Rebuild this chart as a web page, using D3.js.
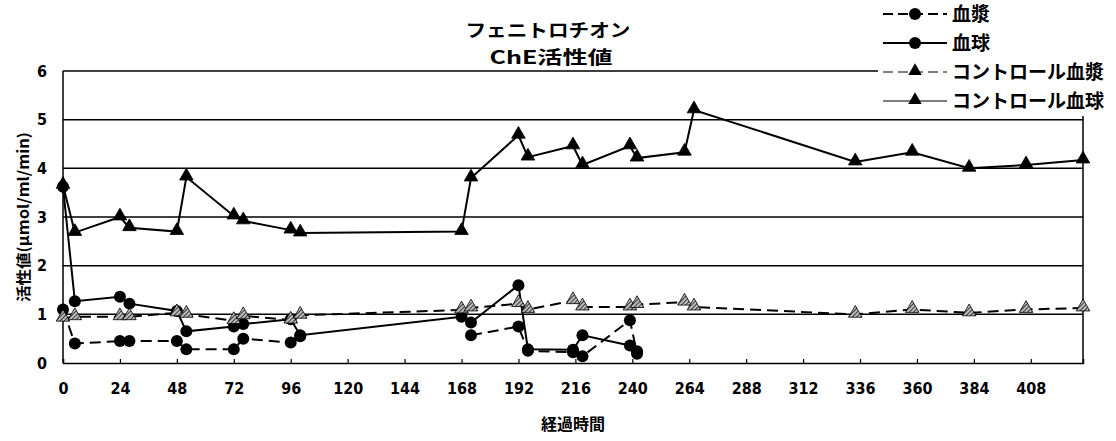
<!DOCTYPE html>
<html>
<head>
<meta charset="utf-8">
<script src="https://cdn.jsdelivr.net/npm/d3@7"></script>
<style>
  body { margin: 0; background: #fff; }
  .jp { font-family: "Noto Sans CJK JP", sans-serif; font-weight: 700; fill: #000; }
  .tick-text { font-family: "Liberation Sans Narrow", "DejaVu Sans Condensed", sans-serif; font-weight: 700; font-size: 16px; fill: #000; }
</style>
</head>
<body>
<div id="chart"></div>
<script>
// sampling times (h)
const timesTest= [0, 5, 24, 28, 48, 52, 72, 76, 96, 100, 168, 172, 192, 196, 215, 219, 239, 242];
const timesCtrl= [0, 5, 24, 28, 48, 52, 72, 76, 96, 100, 168, 172, 192, 196, 215, 219, 239, 242, 262, 266, 334, 358, 382, 406, 430];

// ChE activity (umol/ml/min)
const plasma= [1.1, 0.4, 0.45, 0.45, 0.45, 0.28, 0.28, 0.5, 0.42, 0.55, null, 0.57, 0.75, 0.25, 0.22, 0.14, 0.88, 0.19];
const blood= [3.62, 1.27, 1.36, 1.22, 1.07, 0.65, 0.75, 0.8, 0.9, 0.57, 0.95, 0.83, 1.6, 0.28, 0.27, 0.57, 0.36, 0.24];
const ctrlPlasma= [0.92, 0.95, 0.95, 0.95, 1.03, 1.0, 0.87, 0.97, 0.88, 0.98, 1.09, 1.13, 1.22, 1.1, 1.28, 1.15, 1.15, 1.2, 1.25, 1.15, 1.0, 1.1, 1.03, 1.1, 1.13];
const ctrlBlood= [3.65, 2.68, 3.0, 2.78, 2.7, 3.82, 3.02, 2.92, 2.73, 2.67, 2.7, 3.8, 4.68, 4.23, 4.46, 4.07, 4.46, 4.21, 4.33, 5.2, 4.13, 4.33, 4.0, 4.07, 4.17];

const xTicks= d3.range(0, 409, 24);
const yTicks= [0, 1, 2, 3, 4, 5, 6];

const W= 1116, H= 441;
const MAR= { top: 71, right: 33, bottom: 78, left: 63 };

const svg= d3.select('#chart').append('svg')
  .attr('width', W).attr('height', H)
  .style('display', 'block');

const defs= svg.append('defs');
const pat= defs.append('pattern')
  .attr('id', 'hatch').attr('patternUnits', 'userSpaceOnUse')
  .attr('width', 3).attr('height', 3)
  .attr('patternTransform', 'rotate(45)');
pat.append('rect').attr('width', 3).attr('height', 3).attr('fill', '#bbb');
pat.append('line').attr('x1', 0).attr('y1', 0).attr('x2', 0).attr('y2', 3)
  .attr('stroke', '#000').attr('stroke-width', 1.4);

const xSc= d3.scaleLinear().domain([0, 430]).range([MAR.left, W-MAR.right]);
const ySc= d3.scaleLinear().domain([0, 6]).range([H-MAR.bottom, MAR.top]);

// grid lines
svg.append('g').selectAll('line').data(yTicks.filter(d => d > 0)).join('line')
  .attr('x1', xSc(0)).attr('x2', xSc(430))
  .attr('y1', d => ySc(d)).attr('y2', d => ySc(d))
  .attr('stroke', '#000').attr('stroke-width', 1.5);

// frame
svg.append('line')
  .attr('x1', xSc(0)).attr('x2', xSc(0)).attr('y1', ySc(0)).attr('y2', ySc(6))
  .attr('stroke', '#000').attr('stroke-width', 1.5);
svg.append('line')
  .attr('x1', xSc(430)).attr('x2', xSc(430)).attr('y1', ySc(0)).attr('y2', ySc(6))
  .attr('stroke', '#000').attr('stroke-width', 1.5);

const xAxis= svg.append('g')
  .attr('transform', `translate(0,${ySc(0)})`)
  .call(d3.axisBottom(xSc).tickValues(xTicks).tickSize(-4).tickPadding(20).tickFormat(d3.format('d')));
xAxis.select('.domain').attr('stroke-width', 1.5);
xAxis.selectAll('.tick line').attr('stroke-width', 1.2);
xAxis.selectAll('text').attr('class', 'tick-text').attr('font-size', null).attr('font-family', null);

const yAxis= svg.append('g')
  .attr('transform', `translate(${xSc(0)},0)`)
  .call(d3.axisLeft(ySc).tickValues(yTicks).tickSize(0).tickPadding(16).tickFormat(d3.format('d')));
yAxis.select('.domain').remove();
yAxis.selectAll('text').attr('class', 'tick-text').attr('font-size', null).attr('font-family', null);

// series
const series= [
  { label: '血漿', t: timesTest, v: plasma, dash: '11,6', marker: 'circle', fill: '#000', lw: 2 },
  { label: '血球', t: timesTest, v: blood, dash: null, marker: 'circle', fill: '#000', lw: 2 },
  { label: 'コントロール血漿', t: timesCtrl, v: ctrlPlasma, dash: '11,6', marker: 'tri', fill: 'url(#hatch)', lw: 2 },
  { label: 'コントロール血球', t: timesCtrl, v: ctrlBlood, dash: null, marker: 'tri', fill: '#000', lw: 2 },
];

const line= d3.line()
  .defined(d => d.val != null)
  .x(d => xSc(d.t)).y(d => ySc(d.val));

const triSym= d3.symbol().type(d3.symbolTriangle).size(80);

for (const s of series) {
  const pts= s.t.map((t, i) => ({ t, val: s.v[i] }));
  svg.append('path')
    .attr('d', line(pts))
    .attr('fill', 'none')
    .attr('stroke', '#000')
    .attr('stroke-width', s.lw)
    .attr('stroke-dasharray', s.dash || '');
  const ok= pts.filter(d => d.val != null);
  if (s.marker === 'circle') {
    svg.append('g').selectAll('circle').data(ok).join('circle')
      .attr('cx', d => xSc(d.t)).attr('cy', d => ySc(d.val))
      .attr('r', 6).attr('fill', s.fill);
  } else {
    svg.append('g').selectAll('path').data(ok).join('path')
      .attr('transform', d => `translate(${xSc(d.t)},${ySc(d.val)-1})`)
      .attr('d', triSym())
      .attr('fill', s.fill)
      .attr('stroke', '#000').attr('stroke-width', 0.8);
  }
}

// titles
svg.append('text').attr('class', 'jp')
  .attr('x', 548).attr('y', 37).attr('text-anchor', 'middle')
  .attr('font-size', 18).attr('textLength', 165).attr('lengthAdjust', 'spacingAndGlyphs')
  .text('フェニトロチオン');
svg.append('text').attr('class', 'jp')
  .attr('x', 551).attr('y', 64).attr('text-anchor', 'middle')
  .attr('font-size', 18).attr('textLength', 123).attr('lengthAdjust', 'spacingAndGlyphs')
  .text('ChE活性値');

svg.append('text').attr('class', 'jp')
  .attr('x', (xSc(0)+xSc(430))/2).attr('y', 430).attr('text-anchor', 'middle')
  .attr('font-size', 16).text('経過時間');

svg.append('text').attr('class', 'jp')
  .attr('transform', `translate(24,${ySc(3)}) rotate(-90)`)
  .attr('text-anchor', 'middle').attr('dy', '0.35em')
  .attr('font-size', 15).attr('textLength', 170).attr('lengthAdjust', 'spacingAndGlyphs')
  .text('活性値(μmol/ml/min)');

// legend
const lg= svg.append('g');
lg.append('rect').attr('x', 878).attr('y', 0).attr('width', W-878).attr('height', 116).attr('fill', '#fff');
series.forEach((s, i) => {
  const ly= 14+i*29;
  const ctrl= s.marker === 'tri';
  lg.append('line')
    .attr('x1', 883).attr('x2', 947).attr('y1', ly).attr('y2', ly)
    .attr('stroke', '#000').attr('stroke-width', ctrl ? 1.2 : 2)
    .attr('stroke-dasharray', s.dash ? '10,5' : '');
  if (ctrl) {
    lg.append('path').attr('transform', `translate(915,${ly-1})`)
      .attr('d', triSym()).attr('fill', '#000');
  } else {
    lg.append('circle').attr('cx', 915).attr('cy', ly).attr('r', 6).attr('fill', '#000');
  }
  lg.append('text').attr('class', 'jp')
    .attr('x', 952).attr('y', ly).attr('dy', '0.36em')
    .attr('font-size', 19).text(s.label);
});
</script>
</body>
</html>
